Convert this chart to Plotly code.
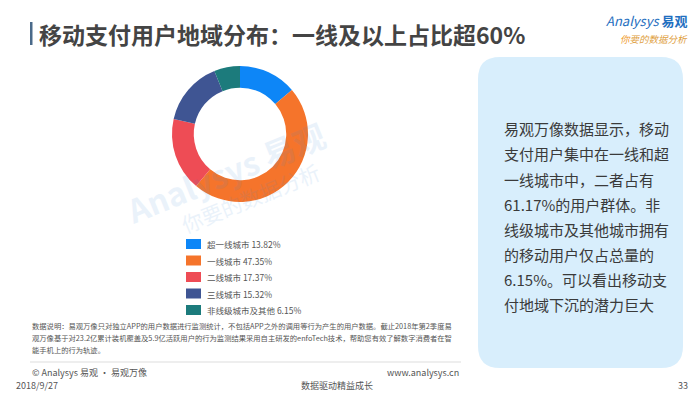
import plotly.graph_objects as go

categories = ["超一线城市", "一线城市", "二线城市", "三线城市", "非线级城市及其他"]
shares = [13.82, 47.35, 17.37, 15.32, 6.15]
colors = ["#0d86f7", "#f5742b", "#ee4c55", "#3f5593", "#1c7b7c"]

title_text = "移动支付用户地域分布：一线及以上占比超60%"
panel_lines = [
    "易观万像数据显示，移动",
    "支付用户集中在一线和超",
    "一线城市中，二者占有",
    "61.17%的用户群体。非",
    "线级城市及其他城市拥有",
    "的移动用户仅占总量的",
    "6.15%。可以看出移动支",
    "付地域下沉的潜力巨大",
]
note_lines = [
    "数据说明：易观万像只对独立APP的用户数据进行监测统计，不包括APP之外的调用等行为产生的用户数据。截止2018年第2季度易",
    "观万像基于对23.2亿累计装机覆盖及5.9亿活跃用户的行为监测结果采用自主研发的enfoTech技术，帮助您有效了解数字消费者在智",
    "能手机上的行为轨迹。",
]

W, H = 700, 394
FONT = "Noto Sans CJK SC"

def px(x):
    return x / W

def py(y):
    return 1 - y / H

cx, cy, r = 240, 134, 68

fig = go.Figure()
fig.add_trace(go.Pie(
    labels=categories, values=shares, hole=0.68, sort=False,
    direction="clockwise", rotation=0,
    marker=dict(colors=colors, line=dict(width=0)),
    textinfo="none", hoverinfo="label+percent", showlegend=False,
    domain=dict(x=[px(cx - r), px(cx + r)], y=[py(cy + r), py(cy - r)]),
))

shapes = []
annotations = []

def rounded(x0, y0, x1, y1, rr):
    return (
        f"M {px(x0+rr)} {py(y0)} L {px(x1-rr)} {py(y0)} "
        f"Q {px(x1)} {py(y0)} {px(x1)} {py(y0+rr)} L {px(x1)} {py(y1-rr)} "
        f"Q {px(x1)} {py(y1)} {px(x1-rr)} {py(y1)} L {px(x0+rr)} {py(y1)} "
        f"Q {px(x0)} {py(y1)} {px(x0)} {py(y1-rr)} L {px(x0)} {py(y0+rr)} "
        f"Q {px(x0)} {py(y0)} {px(x0+rr)} {py(y0)} Z")

# right panel
shapes.append(dict(type="path", xref="paper", yref="paper",
                   path=rounded(478, 57, 683, 368, 22),
                   fillcolor="#d8eefc", line=dict(width=0), layer="below"))
for i, line in enumerate(panel_lines):
    annotations.append(dict(
        x=px(502), y=py(129 + i * 25), xref="paper", yref="paper",
        xanchor="left", yanchor="middle", showarrow=False,
        text=line, font=dict(family=FONT, size=15, color="#3a3a3a"),
    ))

# title bar & title
shapes.append(dict(type="rect", xref="paper", yref="paper",
                   x0=px(30), x1=px(32.5), y0=py(22), y1=py(45),
                   fillcolor="#4a6a8a", line=dict(width=0)))
annotations.append(dict(
    x=px(37), y=py(33.5), xref="paper", yref="paper", xanchor="left", yanchor="middle",
    showarrow=False, text="<b>" + title_text + "</b>",
    font=dict(family=FONT, size=23, color="#444444"),
))

# logo
annotations.append(dict(
    x=px(690), y=py(21), xref="paper", yref="paper", xanchor="right", yanchor="middle",
    showarrow=False, text="<i>Analysys</i> <b>易观</b>",
    font=dict(family=FONT, size=13, color="#1f6fc0"),
))
annotations.append(dict(
    x=px(690), y=py(39), xref="paper", yref="paper", xanchor="right", yanchor="middle",
    showarrow=False, text="<i><span style='color:#f0a030'>你</span>要的数据分析</i>",
    font=dict(family=FONT, size=9.5, color="#e0a040"),
))

# watermark
annotations.append(dict(
    x=px(225), y=py(172), xref="paper", yref="paper", xanchor="center", yanchor="middle",
    showarrow=False, text="<b>Analysys 易观</b>", textangle=-22, opacity=0.1,
    font=dict(family=FONT, size=32, color="#3a8ad8"),
))
annotations.append(dict(
    x=px(250), y=py(198), xref="paper", yref="paper", xanchor="center", yanchor="middle",
    showarrow=False, text="你要的数据分析", textangle=-22, opacity=0.1,
    font=dict(family=FONT, size=21, color="#3a8ad8"),
))

# legend
for i, (cat, val, col) in enumerate(zip(categories, shares, colors)):
    yc = 244 + i * 16.5
    shapes.append(dict(type="rect", xref="paper", yref="paper",
                       x0=px(186), x1=px(201), y0=py(yc - 5), y1=py(yc + 5),
                       fillcolor=col, line=dict(width=0)))
    annotations.append(dict(
        x=px(205), y=py(yc), xref="paper", yref="paper", xanchor="left", yanchor="middle",
        showarrow=False, text=f"{cat} {val:.2f}%",
        font=dict(family=FONT, size=8.5, color="#555555"),
    ))

# notes
for i, line in enumerate(note_lines):
    annotations.append(dict(
        x=px(30), y=py(326 + i * 12), xref="paper", yref="paper", xanchor="left", yanchor="middle",
        showarrow=False, text=line, font=dict(family=FONT, size=7.3, color="#555555"),
    ))
shapes.append(dict(type="line", xref="paper", yref="paper",
                   x0=px(30), x1=px(461), y0=py(362), y1=py(362),
                   line=dict(color="#dddddd", width=1)))

# footer
footer = [
    (px(30), 372, "left", "© Analysys 易观 · 易观万像", 9),
    (px(461), 372, "right", "www.analysys.cn", 9),
    (px(14), 385, "left", "2018/9/27", 9),
    (px(337), 385, "center", "数据驱动精益成长", 9),
    (px(690), 385, "right", "33", 9),
]
for x, y, anc, txt, sz in footer:
    annotations.append(dict(
        x=x, y=py(y), xref="paper", yref="paper", xanchor=anc, yanchor="middle",
        showarrow=False, text=txt, font=dict(family=FONT, size=sz, color="#555555"),
    ))

fig.update_layout(
    width=W, height=H, margin=dict(l=0, r=0, t=0, b=0),
    paper_bgcolor="white", plot_bgcolor="white",
    shapes=shapes, annotations=annotations,
    font=dict(family=FONT),
)
fig.write_html("out.html", config={"displayModeBar": False},
               post_script="document.body.style.margin='0';document.body.style.overflow='hidden';")
